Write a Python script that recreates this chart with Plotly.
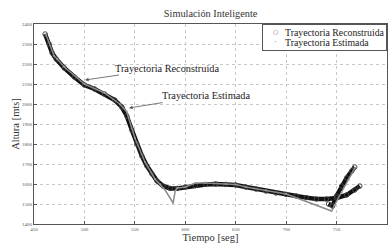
import plotly.graph_objects as go

# Reconstructed trajectory (time [s], altitude [m]); None splits the late branch
rec_t = [461, 465, 468, 472, 480, 490, 500, 510, 520, 530, 537, 542, 547, 552, 557, 562, 567, 572,
         578, 585, 592, 600, 610, 620, 630, 640, 650, 660, 670, 680, 690, 700, 710, 720, 730,
         740, 750, 760, 768, 773, None, 742, 746, 750, 755, 760, 765, 768]
rec_h = [2350, 2300, 2255, 2225, 2180, 2135, 2095, 2075, 2050, 2020, 1985, 1940, 1870, 1800, 1740,
         1690, 1650, 1615, 1590, 1578, 1578, 1585, 1592, 1598, 1600, 1598, 1595, 1585, 1575, 1565,
         1555, 1548, 1540, 1532, 1525, 1525, 1530, 1545, 1570, 1590, None, 1500, 1490, 1540, 1590,
         1630, 1665, 1685]

# Estimated trajectory
est_t = [462, 470, 473, 480, 500, 520, 535, 542, 550, 560, 570, 575, 580, 588, 590, 592, 600, 610,
         620, 640, 650, 660, 680, 700, 716, 730, 745, 748, 755, 762, 768]
est_h = [2345, 2240, 2225, 2185, 2100, 2055, 2000, 1960, 1830, 1710, 1625, 1600, 1570, 1505, 1565,
         1580, 1585, 1605, 1605, 1600, 1597, 1585, 1568, 1550, 1520, 1495, 1465, 1495, 1560, 1620,
         1680]

x_ticks = [450, 500, 550, 600, 650, 700, 750, 800]
y_ticks = [1400, 1500, 1600, 1700, 1800, 1900, 2000, 2100, 2200, 2300, 2400]

series_names = ["Trayectoria Reconstruida", "Trayectoria Estimada"]

serif = "Liberation Serif, Times New Roman, serif"

fig = go.Figure()
# thick body of the reconstructed curve (dense circles in the original)
fig.add_trace(go.Scatter(x=rec_t, y=rec_h, mode="lines", line=dict(color="#111111", width=4.5),
                         showlegend=False, hoverinfo="skip"))
fig.add_trace(go.Scatter(x=rec_t, y=rec_h, mode="markers", name=series_names[0], showlegend=False,
                         marker=dict(symbol="circle-open", size=4.5, color="#444444", line=dict(width=1))))
fig.add_trace(go.Scatter(x=est_t, y=est_h, mode="lines", line=dict(color="#8a8a8a", width=1.5),
                         showlegend=False, hoverinfo="skip"))
fig.add_trace(go.Scatter(x=est_t, y=est_h, mode="markers", name=series_names[1], showlegend=False,
                         marker=dict(symbol="circle", size=2, color="#999999")))

axis_common = dict(showline=True, linecolor="#555555", linewidth=1, mirror=True,
                   showgrid=True, gridcolor="#c8c8c8", griddash="dot", gridwidth=1,
                   zeroline=False, ticks="inside", ticklen=3, tickcolor="#555555",
                   automargin=False,
                   tickfont=dict(family=serif, size=5, color="#555555"))

fig.update_xaxes(range=[450, 800], tickvals=x_ticks, ticktext=[str(v) for v in x_ticks],
                 title=dict(text="Tiempo [seg]", font=dict(family=serif, size=10.5, color="#333333"),
                            standoff=0), **axis_common)
fig.update_yaxes(range=[1400, 2400], tickvals=y_ticks, ticktext=[str(v) for v in y_ticks],
                 title=dict(text="Altura [mts]", font=dict(family=serif, size=10.5, color="#333333"),
                            standoff=0), **axis_common)

# callouts
fig.add_annotation(x=500.6, y=2120, ax=581.4, ay=2180, axref="x", ayref="y",
                   text=series_names[0], showarrow=True, arrowhead=2, arrowsize=0.9,
                   arrowwidth=0.8, arrowcolor="#555555",
                   font=dict(family=serif, size=10.3, color="#222222"))
fig.add_annotation(x=544.2, y=1980, ax=620.5, ay=2042, axref="x", ayref="y",
                   text=series_names[1], showarrow=True, arrowhead=2, arrowsize=0.9,
                   arrowwidth=0.8, arrowcolor="#555555",
                   font=dict(family=serif, size=10.3, color="#222222"))

# compact legend box (as in the original figure)
fig.add_annotation(x=0.646, y=1.0, xref="paper", yref="paper", xanchor="left", yanchor="top",
                   text=" ", showarrow=False, width=123, height=25, borderpad=0,
                   bordercolor="#555555", borderwidth=1, bgcolor="white",
                   font=dict(family=serif, size=9))
for name, yy in zip(series_names, [0.96, 0.905]):
    fig.add_annotation(x=0.705, y=yy, xref="paper", yref="paper", xanchor="left", yanchor="middle",
                       text=name, showarrow=False,
                       font=dict(family=serif, size=9.8, color="#222222"))
# legend symbols
fig.add_annotation(x=0.685, y=0.962, xref="paper", yref="paper", xanchor="center", yanchor="middle",
                   text="○", showarrow=False,
                   font=dict(family="DejaVu Sans", size=6, color="#666666"))
fig.add_annotation(x=0.685, y=0.905, xref="paper", yref="paper", xanchor="center", yanchor="middle",
                   text="·", showarrow=False,
                   font=dict(family="DejaVu Sans", size=8, color="#999999"))

fig.update_layout(
    width=390, height=243,
    margin=dict(l=34, r=3, t=24, b=19, autoexpand=False),
    paper_bgcolor="white", plot_bgcolor="white",
    title=dict(text="Simulación Inteligente", x=0.54, xanchor="center", y=0.945, yanchor="middle",
               font=dict(family=serif, size=10.3, color="#333333")),
    showlegend=False,
)

fig.write_html("out.html", config={"displayModeBar": False},
               post_script="document.body.style.margin='0';document.body.style.overflow='hidden';")
